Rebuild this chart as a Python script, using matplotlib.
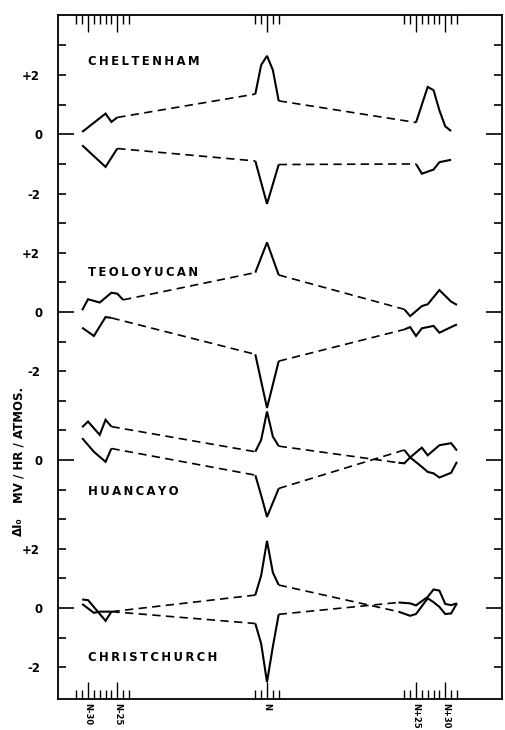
import numpy as np
import matplotlib
matplotlib.use("Agg")
import matplotlib.pyplot as plt
from matplotlib.transforms import blended_transform_factory

# ---------------- data (days relative to N, value in mV/hr/atmos) ----------------
stations = ["CHELTENHAM", "TEOLOYUCAN", "HUANCAYO", "CHRISTCHURCH"]

# each curve: three solid segments (before, around, after N) joined by dashed lines
chel_up_days = [[-31, -27, -26, -25], [-2, -1, 0, 1, 2], [25, 27, 28, 29, 30, 31]]
chel_up_vals = [[0.08, 0.70, 0.42, 0.57], [1.36, 2.34, 2.65, 2.17, 1.13], [0.40, 1.60, 1.49, 0.81, 0.27, 0.11]]
chel_lo_days = [[-31, -27, -25], [-2, 0, 2], [25, 26, 28, 29, 31]]
chel_lo_vals = [[-0.37, -1.10, -0.48], [-0.90, -2.35, -1.02], [-1.00, -1.33, -1.19, -0.94, -0.86]]

teol_up_days = [[-31, -30, -28, -26, -25, -24], [-2, 0, 2], [23, 24, 26, 27, 29, 31, 32]]
teol_up_vals = [[0.06, 0.43, 0.32, 0.65, 0.62, 0.41], [1.33, 2.35, 1.25], [0.09, -0.14, 0.20, 0.26, 0.74, 0.35, 0.24]]
teol_lo_days = [[-31, -29, -27, -26], [-2, 0, 2], [23, 24, 25, 26, 28, 29, 31, 32]]
teol_lo_vals = [[-0.53, -0.81, -0.17, -0.20], [-1.43, -3.24, -1.66], [-0.59, -0.51, -0.81, -0.55, -0.47, -0.70, -0.51, -0.42]]

huan_up_days = [[-31, -30, -28, -27, -26], [-2, -1, 0, 1, 2], [22, 23, 24, 26, 27, 29, 31, 32]]
huan_up_vals = [[1.11, 1.30, 0.85, 1.36, 1.13], [0.28, 0.68, 1.64, 0.79, 0.47], [-0.09, -0.11, 0.09, 0.42, 0.16, 0.50, 0.57, 0.32]]
huan_lo_days = [[-31, -29, -27, -26], [-2, -1, 0, 2], [23, 24, 26, 27, 28, 29, 31, 32]]
huan_lo_vals = [[0.74, 0.28, -0.06, 0.39], [-0.51, -1.19, -1.92, -0.96], [0.34, 0.09, -0.23, -0.40, -0.45, -0.59, -0.43, -0.06]]

chri_up_days = [[-31, -30, -27, -26], [-2, -1, 0, 1, 2], [22, 24, 25, 27, 28, 29, 30, 31, 32]]
chri_up_vals = [[0.29, 0.27, -0.43, -0.12], [0.44, 1.10, 2.27, 1.20, 0.78], [-0.12, -0.26, -0.20, 0.33, 0.20, 0.04, -0.20, -0.18, 0.16]]
chri_lo_days = [[-31, -29, -28, -26], [-2, -1, 0, 1, 2], [22, 24, 25, 27, 28, 29, 30, 31, 32]]
chri_lo_vals = [[0.14, -0.16, -0.12, -0.12], [-0.52, -1.20, -2.50, -1.30, -0.21], [0.19, 0.16, 0.09, 0.38, 0.63, 0.59, 0.14, 0.10, 0.16]]

xtick_days = [-30, -25, 0, 25, 30]
xtick_labels = ["N-30", "N-25", "N", "N+25", "N+30"]
minor_days = [d for d in list(range(-32, -22)) + list(range(-2, 3)) + list(range(23, 33)) if d not in xtick_days]

# ---------------- layout ----------------
offsets = [16, 10, 5, 0]
label_y = [18.45, 11.35, 3.93, -1.67]

fig = plt.figure(figsize=(5.05, 7.3), dpi=100)
ax = fig.add_axes([58 / 505, 31 / 730, 444 / 505, 684 / 730])

# broken (piecewise-linear) time axis
K_D = np.array([-60.0, -22.0, -3.0, 3.0, 22.0, 60.0])
K_U = np.array([88 + 5.85 * (-30), 88 + 5.85 * 8, 267 - 5.85 * 3, 267 + 5.85 * 3, 416 - 5.85 * 3, 416 + 5.85 * 35])


def fwd(d):
    return np.interp(d, K_D, K_U)


def inv(u):
    return np.interp(u, K_U, K_D)


ax.set_xscale("function", functions=(fwd, inv))
ax.set_xlim(-35.13, 39.70)
ax.set_ylim(-3.07, 20.03)

LW = 1.5


def draw_curve(days_segs, vals_segs, off):
    for d, v in zip(days_segs, vals_segs):
        ax.plot(d, np.array(v) + off, color="black", lw=LW, solid_joinstyle="miter",
                solid_capstyle="butt")
    for i in range(len(days_segs) - 1):
        ax.plot([days_segs[i][-1], days_segs[i + 1][0]],
                [vals_segs[i][-1] + off, vals_segs[i + 1][0] + off],
                color="black", lw=1.2, linestyle=(0, (5, 3.2)))


curves = [
    (chel_up_days, chel_up_vals, chel_lo_days, chel_lo_vals),
    (teol_up_days, teol_up_vals, teol_lo_days, teol_lo_vals),
    (huan_up_days, huan_up_vals, huan_lo_days, huan_lo_vals),
    (chri_up_days, chri_up_vals, chri_lo_days, chri_lo_vals),
]
for (ud, uv, ld, lv), off in zip(curves, offsets):
    draw_curve(ud, uv, off)
    draw_curve(ld, lv, off)

# station names
trans = blended_transform_factory(ax.transData, ax.transData)
for name, y in zip(stations, label_y):
    ax.text(-30, y, "\u2009".join(name), transform=trans, fontsize=8.4, fontweight="bold",
            ha="left", va="center", family="DejaVu Sans")

# x ticks
ax.set_xticks(xtick_days, xtick_labels)
ax.set_xticks(minor_days, minor=True)
ax.tick_params(axis="x", which="major", direction="in", length=12, width=1,
               top=True, bottom=True, labelsize=6, pad=3, labelrotation=270)
ax.tick_params(axis="x", which="minor", direction="in", length=6.5, width=1,
               top=True, bottom=True)

# y ticks
major_y = [0, 5, 10, 16]
minor_y = [v for v in range(-2, 20) if v not in major_y]
minor_lab = {-2: "-2", 2: "+2", 8: "-2", 12: "+2", 14: "-2", 18: "+2"}
ax.set_yticks(major_y, ["0"] * len(major_y))
ax.set_yticks(minor_y, [minor_lab.get(v, "") for v in minor_y], minor=True)
ax.tick_params(axis="y", which="major", direction="in", length=11.5, width=1.2,
               left=True, right=True, labelsize=8.5, pad=11)
ax.tick_params(axis="y", which="minor", direction="in", length=6, width=1.2,
               left=True, right=True, labelsize=8.5, pad=13)
for lbl in ax.get_yticklabels(which="both") + ax.get_xticklabels(which="both"):
    lbl.set_fontweight("bold")

for s in ax.spines.values():
    s.set_linewidth(1.3)

# y-axis label (two pieces, as in the original lettering)
ax.text(-0.088, 0.371, "MV / HR / ATMOS.", transform=ax.transAxes,
        rotation=90, ha="center", va="center", fontsize=8.5, fontweight="bold")
ax.text(-0.088, 0.252, "\u0394I\u2080", transform=ax.transAxes,
        rotation=90, ha="center", va="center", fontsize=8.5, fontweight="bold")

fig.savefig("out.png", dpi=100)
